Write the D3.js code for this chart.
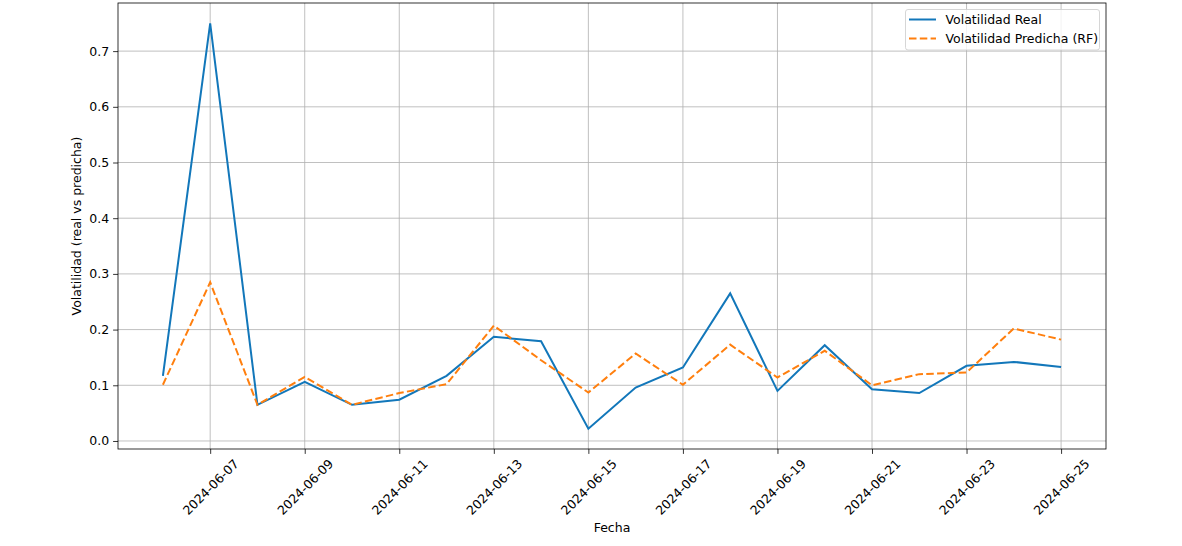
<!DOCTYPE html>
<html>
<head>
<meta charset="utf-8">
<script src="https://cdn.jsdelivr.net/npm/d3@7"></script>
<style>
  body { margin: 0; background: #fff; }
  text { font-family: "DejaVu Sans", sans-serif; fill: #000; }
</style>
</head>
<body>
<svg id="chart" width="1182" height="546"></svg>
<script>
var dates = ["2024-06-06", "2024-06-07", "2024-06-08", "2024-06-09", "2024-06-10",
    "2024-06-11", "2024-06-12", "2024-06-13", "2024-06-14", "2024-06-15",
    "2024-06-16", "2024-06-17", "2024-06-18", "2024-06-19", "2024-06-20",
    "2024-06-21", "2024-06-22", "2024-06-23", "2024-06-24", "2024-06-25"];
var volReal = [0.117, 0.750, 0.065, 0.106, 0.065, 0.074, 0.117, 0.187, 0.179, 0.022,
    0.096, 0.132, 0.265, 0.090, 0.172, 0.093, 0.086, 0.135, 0.142, 0.133];
var volPred = [0.101, 0.285, 0.065, 0.115, 0.065, 0.086, 0.102, 0.207, 0.145, 0.087,
    0.157, 0.101, 0.173, 0.114, 0.162, 0.100, 0.120, 0.123, 0.202, 0.182];
var yTicks = [0.0, 0.1, 0.2, 0.3, 0.4, 0.5, 0.6, 0.7];
var xTickLabels = ["2024-06-07", "2024-06-09", "2024-06-11", "2024-06-13", "2024-06-15",
    "2024-06-17", "2024-06-19", "2024-06-21", "2024-06-23", "2024-06-25"];
var seriesNames = ["Volatilidad Real", "Volatilidad Predicha (RF)"];

var parse = d3.utcParse("%Y-%m-%d");
var fmt = d3.utcFormat("%Y-%m-%d");

var axLeft = 118, axRight = 1106, axTop = 3, axBottom = 449;
var fs = "12.5px";
var svg = d3.select("#chart");

// matplotlib style 5% margins
var t0 = parse(dates[0]), t1 = parse(dates[dates.length - 1]);
var span = t1 - t0;
var x = d3.scaleUtc()
    .domain([new Date(+t0 - span * 0.05), new Date(+t1 + span * 0.05)])
    .range([axLeft, axRight]);
var all = volReal.concat(volPred);
var ymin = d3.min(all), ymax = d3.max(all);
var yr = ymax - ymin;
var y = d3.scaleLinear()
    .domain([ymin - yr * 0.05, ymax + yr * 0.05])
    .range([axBottom, axTop]);

var xTicks = xTickLabels.map(parse);

// grid
svg.append("g").selectAll("line").data(xTicks).enter().append("line")
    .attr("x1", function(d) { return x(d); })
    .attr("x2", function(d) { return x(d); })
    .attr("y1", axTop).attr("y2", axBottom)
    .style("stroke", "#b0b0b0").style("stroke-width", 0.8);
svg.append("g").selectAll("line").data(yTicks).enter().append("line")
    .attr("x1", axLeft).attr("x2", axRight)
    .attr("y1", function(d) { return y(d); })
    .attr("y2", function(d) { return y(d); })
    .style("stroke", "#b0b0b0").style("stroke-width", 0.8);

// lines
var line = function(vals) {
    return d3.line()
        .x(function(d, i) { return x(parse(dates[i])); })
        .y(function(d) { return y(d); })(vals);
};
svg.append("path").attr("d", line(volReal))
    .style("fill", "none").style("stroke", "#1277ba").style("stroke-width", 2);
svg.append("path").attr("d", line(volPred))
    .style("fill", "none").style("stroke", "#ff7f0e").style("stroke-width", 2)
    .style("stroke-dasharray", "7.5,3.3");

// axes
var xAxis = svg.append("g")
    .attr("transform", "translate(0," + axBottom + ")")
    .call(d3.axisBottom(x).tickValues(xTicks).tickFormat(fmt).tickSizeOuter(0).tickSize(4.9));
xAxis.select(".domain").remove();
xAxis.selectAll("text")
    .style("font-size", fs)
    .attr("text-anchor", "middle")
    .attr("dy", null).attr("y", null)
    .attr("dominant-baseline", "central")
    .attr("transform", "translate(0,38) rotate(-45)");

var yAxis = svg.append("g")
    .attr("transform", "translate(" + axLeft + ",0)")
    .call(d3.axisLeft(y).tickValues(yTicks).tickFormat(d3.format(".1f")).tickSizeOuter(0).tickSize(4.9).tickPadding(4));
yAxis.select(".domain").remove();
yAxis.selectAll("text").style("font-size", fs);
svg.selectAll(".tick line").style("stroke", "#000").style("stroke-width", 0.8);

// frame
svg.append("rect")
    .attr("x", axLeft).attr("y", axTop)
    .attr("width", axRight - axLeft).attr("height", axBottom - axTop)
    .style("fill", "none").style("stroke", "#000").style("stroke-width", 0.8);

// labels
svg.append("text").attr("x", (axLeft + axRight) / 2).attr("y", 532)
    .attr("text-anchor", "middle").style("font-size", fs).text("Fecha");
svg.append("text")
    .attr("transform", "translate(81," + ((axTop + axBottom) / 2) + ") rotate(-90)")
    .attr("text-anchor", "middle").style("font-size", fs)
    .text("Volatilidad (real vs predicha)");

// legend
var lg = svg.append("g");
lg.append("rect").attr("x", 905.5).attr("y", 9.5).attr("width", 194).attr("height", 40.5)
    .attr("rx", 2.5)
    .style("fill", "#fff").style("fill-opacity", 0.8)
    .style("stroke", "#cccccc").style("stroke-width", 0.8);
var legColors = ["#1277ba", "#ff7f0e"];
var legDash = ["none", "7.5,3.3"];
var rows = lg.selectAll("g").data(seriesNames).enter().append("g")
    .attr("transform", function(d, i) { return "translate(0," + (19.5 + i * 19) + ")"; });
rows.append("line").attr("x1", 909).attr("x2", 936).attr("y1", 0).attr("y2", 0)
    .style("stroke", function(d, i) { return legColors[i]; })
    .style("stroke-width", 2)
    .style("stroke-dasharray", function(d, i) { return legDash[i]; });
rows.append("text").attr("x", 945.5).attr("y", 0).attr("dy", "0.35em")
    .style("font-size", fs).text(function(d) { return d; });
</script>
</body>
</html>
